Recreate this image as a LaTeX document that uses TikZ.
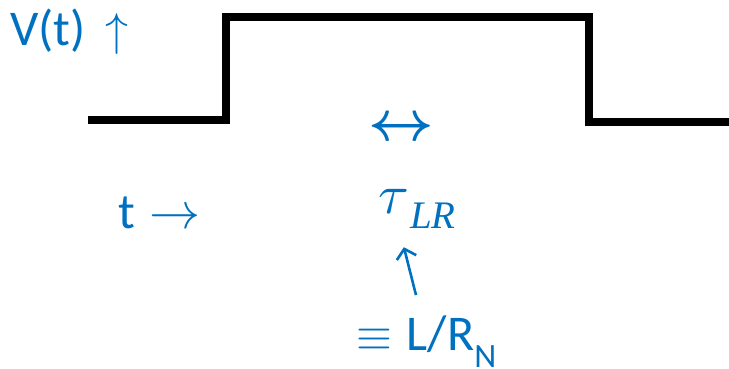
\documentclass[tikz,border=0pt]{standalone}
\usepackage{fontspec}
\setmainfont{Carlito}
\newfontfamily\subfont{Liberation Serif}
\usetikzlibrary{arrows.meta}
\definecolor{txtblue}{HTML}{0070C0}
\newcommand{\scaledmath}[2]{\scalebox{#1}{\fontsize{10}{12}\selectfont$#2$}}
\tikzset{
  wave/.style={line width=8pt, line join=miter, black},
  lbl/.style={text=txtblue, inner sep=0pt, font=\fontsize{50}{50}\selectfont},
  conn/.style={draw=txtblue, line width=2.6pt, -{Straight Barb[length=9pt,width=20pt,line width=2.6pt]}}
}
\begin{document}
\begin{tikzpicture}[x=1pt,y=-1pt]
\useasboundingbox (0,0) rectangle (729,369);
\draw[wave] (88,120) -- (226,120) -- (226,17) -- (589,17) -- (589,122) -- (729,122);
\node[lbl, anchor=base west] (vt) at (10,46) {V(t)\hspace{0.4em}\scaledmath{4.6}{\uparrow}};
\node[lbl, anchor=base west] (t) at (118,228) {t\hspace{0.3em}\scaledmath{5.1}{\rightarrow}};
\node[lbl, anchor=center, font=\fontsize{50}{50}\selectfont\mathversion{bold}] (lr) at (401,129) {\scaledmath{5.7}{\leftrightarrow}};
\node[lbl, anchor=base west] (tau) at (378,213) {\scaledmath{5.6}{\tau}\hspace{1pt}\raisebox{-15pt}{\fontsize{39}{39}\subfont\itshape LR}};
\node[lbl, anchor=base west] (eq) at (356,350) {\scaledmath{4.6}{\equiv}\hspace{0.3em}L/R\raisebox{-0.34em}{\fontsize{34}{34}\selectfont N}};
\draw[conn] ([xshift=60pt,yshift=20pt]eq.north west) -- ([xshift=-13pt,yshift=-19pt]tau.south);
\end{tikzpicture}
\end{document}
